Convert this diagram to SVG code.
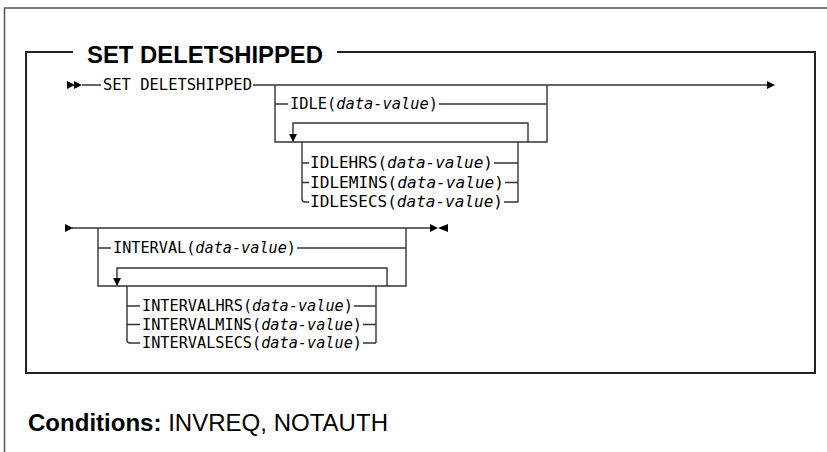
<svg xmlns="http://www.w3.org/2000/svg" width="827" height="452" viewBox="0 0 827 452">
<style>
.frame{fill:none;stroke:#555;stroke-width:1.5}
.box{fill:none;stroke:#222;stroke-width:2}
.ln{fill:none;stroke:#333;stroke-width:1.4}
.mono{font-family:"DejaVu Sans Mono","Liberation Mono",monospace;font-size:15.5px;fill:#000}
.it{font-style:italic}
.title{font-family:"Liberation Sans",Arial,sans-serif;font-size:24px;font-weight:bold;fill:#000}
.cond{font-family:"Liberation Sans",Arial,sans-serif;font-size:24px;fill:#000}
.ah{fill:#000}
</style>
<defs>
<path id="tr" d="M0,-4 L8,0 L0,4 Z"/>
<path id="tl" d="M0,-4 L-10,0 L0,4 Z"/>
<path id="td" d="M-4,-8 L4,-8 L0,0 Z"/>
</defs>
<g id="frames">
<path class="frame" d="M4.5,452 V8 H827"/>
<path class="box" d="M73,52 H26 V373 H815 V52 H337"/>
</g>
<g id="title"><text class="title" x="87" y="63" textLength="236" lengthAdjust="spacingAndGlyphs">SET DELETSHIPPED</text></g>
<g id="connectors">
<path class="ln" d="M82,85 H101 M253,85 H768"/>
<path class="ln" d="M275,85 V142 H547 V85"/>
<path class="ln" d="M275,104 H288 M439,104 H547"/>
<path class="ln" d="M293,135 V123 H528 V142"/>
<path class="ln" d="M302,142 V199 Q302,202 305,202 H309 M302,163 H309 M302,182.5 H309"/>
<path class="ln" d="M494,163 H518 M505,182.5 H518 M504,202 H518 M518,142 V202"/>
<path class="ln" d="M72,228 H430"/>
<path class="ln" d="M98,228 V286 H406 V228"/>
<path class="ln" d="M98,248 H111 M297,248 H406"/>
<path class="ln" d="M117,279 V268 H387 V286"/>
<path class="ln" d="M127,286 V340 Q127,343 130,343 H140 M127,306 H140 M127,324.5 H140"/>
<path class="ln" d="M354,306 H376 M363,324.5 H376 M363,343 H376 M376,286 V343"/>
<use href="#tr" class="ah" x="67" y="85"/>
<use href="#tr" class="ah" x="74" y="85"/>
<use href="#tr" class="ah" x="767" y="85"/>
<use href="#td" class="ah" x="293" y="142"/>
<use href="#tr" class="ah" x="65" y="228"/>
<use href="#tr" class="ah" x="430" y="228"/>
<use href="#tl" class="ah" x="448" y="228"/>
<use href="#td" class="ah" x="117" y="286"/>
</g>
<g id="n-set"><text class="mono" x="103" y="90" textLength="149" lengthAdjust="spacingAndGlyphs">SET DELETSHIPPED</text></g>
<g id="n-idle"><text class="mono" x="290" y="109" textLength="148" lengthAdjust="spacingAndGlyphs">IDLE(<tspan class="it">data-value</tspan>)</text></g>
<g id="n-idlehrs"><text class="mono" x="310" y="168" textLength="183" lengthAdjust="spacingAndGlyphs">IDLEHRS(<tspan class="it">data-value</tspan>)</text></g>
<g id="n-idlemins"><text class="mono" x="310" y="187.5" textLength="194" lengthAdjust="spacingAndGlyphs">IDLEMINS(<tspan class="it">data-value</tspan>)</text></g>
<g id="n-idlesecs"><text class="mono" x="310" y="207" textLength="193" lengthAdjust="spacingAndGlyphs">IDLESECS(<tspan class="it">data-value</tspan>)</text></g>
<g id="n-interval"><text class="mono" x="113" y="253" textLength="183" lengthAdjust="spacingAndGlyphs">INTERVAL(<tspan class="it">data-value</tspan>)</text></g>
<g id="n-intervalhrs"><text class="mono" x="142" y="311" textLength="211" lengthAdjust="spacingAndGlyphs">INTERVALHRS(<tspan class="it">data-value</tspan>)</text></g>
<g id="n-intervalmins"><text class="mono" x="142" y="329.5" textLength="220" lengthAdjust="spacingAndGlyphs">INTERVALMINS(<tspan class="it">data-value</tspan>)</text></g>
<g id="n-intervalsecs"><text class="mono" x="142" y="348" textLength="220" lengthAdjust="spacingAndGlyphs">INTERVALSECS(<tspan class="it">data-value</tspan>)</text></g>
<g id="conditions"><text class="cond" x="28" y="431" textLength="360" lengthAdjust="spacingAndGlyphs"><tspan font-weight="bold">Conditions:</tspan> INVREQ, NOTAUTH</text></g>
</svg>
